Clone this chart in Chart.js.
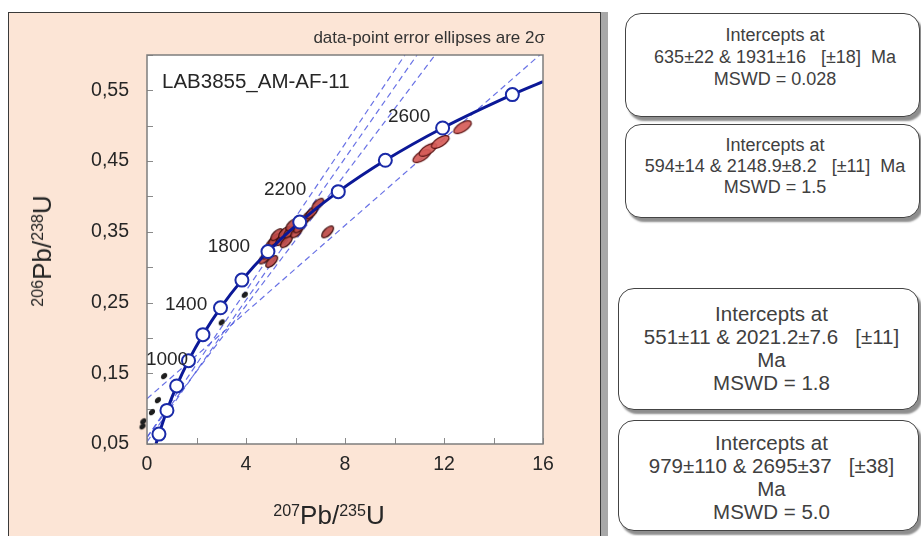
<!DOCTYPE html>
<html>
<head>
<meta charset="utf-8">
<script src="https://cdn.jsdelivr.net/npm/chart.js@4.4.1/dist/chart.umd.min.js"></script>
<style>
  body { margin: 0; width: 921px; height: 536px; overflow: hidden; position: relative; background: #fff;
         font-family: "Liberation Sans", Arial, sans-serif; }
  #panel { position: absolute; left: 8px; top: 12px; width: 591px; height: 540px; background: #fce5d6;
           border: 1px solid #3a3a3a; box-shadow: 7px 0 0 #a8a8a8; }
  #grafica { position: absolute; left: 0; top: 0; }
  .texto { position: absolute; color: #262626; white-space: nowrap; }
  .titulo { font-size: 26px; line-height: 26px; transform: translate(-50%, -50%); }
  sup { font-size: 0.62em; vertical-align: 0.5em; line-height: 0; }
  .caja { position: absolute; box-sizing: border-box; background: #fff; border: 1px solid #444;
          border-radius: 16px; box-shadow: 3px 4px 2px #8e8e8e; text-align: center; color: #404040;
          white-space: pre; }
</style>
</head>
<body>
<div id="panel"></div>
<canvas id="grafica" width="610" height="536"></canvas>

<div class="texto" style="right:376px; top:28px; font-size:17px; line-height:20px; color:#333;">data-point error ellipses are 2σ</div>
<div class="texto titulo" style="left:329px; top:515px;"><sup>207</sup>Pb/<sup>235</sup>U</div>
<div class="texto titulo" style="left:42px; top:251px; transform: translate(-50%, -50%) rotate(-90deg);"><sup>206</sup>Pb/<sup>238</sup>U</div>

<div class="caja" style="left:625px; top:13px; width:295px; height:104px; font-size:18px; line-height:22px; padding:10px 0 0 5px;">Intercepts at
635±22 &amp; 1931±16   [±18]  Ma
MSWD = 0.028</div>
<div class="caja" style="left:625px; top:124px; width:295px; height:94px; font-size:18px; line-height:21px; padding:10px 0 0 5px;">Intercepts at
594±14 &amp; 2148.9±8.2   [±11]  Ma
MSWD = 1.5</div>
<div class="caja" style="left:618px; top:288px; width:301px; height:122px; font-size:20.5px; line-height:23px; padding:13px 0 0 6px;">Intercepts at
551±11 &amp; 2021.2±7.6   [±11]
Ma
MSWD = 1.8</div>
<div class="caja" style="left:618px; top:420px; width:301px; height:111px; font-size:20.5px; line-height:23px; padding:10px 0 0 6px;">Intercepts at
979±110 &amp; 2695±37   [±38]
Ma
MSWD = 5.0</div>

<script>
// Curva concordia (207Pb/235U, 206Pb/238U)
const concordiaX = [0.363, 0.483, 0.806, 1.199, 1.677, 2.260, 2.970, 3.835, 4.887, 6.170, 7.729, 9.630, 11.944, 14.762, 16.0];
const concordiaY = [0.050, 0.064, 0.0975, 0.1321, 0.1678, 0.2046, 0.2426, 0.2817, 0.3221, 0.3638, 0.4068, 0.4511, 0.4968, 0.5440, 0.5624];

// Marcas de edad cada 200 Ma (400 - 2800)
const edadesX = [0.483, 0.806, 1.199, 1.677, 2.260, 2.970, 3.835, 4.887, 6.170, 7.729, 9.630, 11.944, 14.762];
const edadesY = [0.064, 0.0975, 0.1321, 0.1678, 0.2046, 0.2426, 0.2817, 0.3221, 0.3638, 0.4068, 0.4511, 0.4968, 0.5440];

// Etiquetas de edad
const etiquetasTexto = ["1000", "1400", "1800", "2200", "2600"];
const etiquetasX = [0.81, 1.58, 3.31, 5.58, 10.59];
const etiquetasY = [0.169, 0.247, 0.329, 0.409, 0.513];

// Elipses de error (grupo central)
const elipsesX = [4.76, 4.88, 5.04, 5.04, 5.16, 5.24, 5.44, 5.56, 5.63, 5.77, 5.85, 6.05, 6.17, 6.30, 6.50, 6.65, 6.90, 7.30];
const elipsesY = [0.313, 0.320, 0.308, 0.334, 0.339, 0.346, 0.339, 0.349, 0.336, 0.350, 0.360, 0.350, 0.357, 0.364, 0.372, 0.377, 0.389, 0.350];

// Elipses grandes cerca de 2600 Ma
const grandesX = [11.10, 11.35, 11.85, 12.75];
const grandesY = [0.457, 0.466, 0.477, 0.498];

// Puntos pequeños (negros)
const puntosX = [3.95, 3.02, 0.69, 0.44, 0.20, -0.15, -0.18];
const puntosY = [0.261, 0.222, 0.146, 0.112, 0.095, 0.082, 0.075];

// Rectas de discordia (extremos)
const discordiaX1 = [0, 0, 0, 0];
const discordiaY1 = [0.059, 0.060, 0.053, 0.114];
const discordiaX2 = [10.42, 11.64, 10.91, 16];
const discordiaY2 = [0.60, 0.60, 0.60, 0.604];

Chart.defaults.font.family = '"Liberation Sans", Arial, sans-serif';
Chart.defaults.color = "#262626";

function toPoints(xs, ys) {
  return xs.map((x, i) => ({ x: x, y: ys[i] }));
}

function crearElipse(rx, ry, angulo, relleno, borde) {
  const lado = Math.ceil(Math.max(rx, ry) * 2 + 4);
  const c = document.createElement("canvas");
  c.width = lado;
  c.height = lado;
  const g = c.getContext("2d");
  g.translate(lado / 2, lado / 2);
  g.rotate((angulo * Math.PI) / 180);
  g.beginPath();
  g.ellipse(0, 0, rx, ry, 0, 0, Math.PI * 2);
  g.fillStyle = relleno;
  g.fill();
  g.lineWidth = 1.2;
  g.strokeStyle = borde;
  g.stroke();
  return c;
}

const elipseChica = crearElipse(7.5, 3.6, -45, "rgba(190,74,70,0.92)", "#3c0e0e");
const elipseGrande = crearElipse(10, 4.3, -32, "rgba(214,92,88,0.92)", "#5a1414");
const punto = crearElipse(3, 2, -45, "#1e1e1e", "#1e1e1e");

const datasets = [];

discordiaX1.forEach((x, i) => {
  datasets.push({
    data: [{ x: x, y: discordiaY1[i] }, { x: discordiaX2[i], y: discordiaY2[i] }],
    showLine: true,
    borderColor: "rgba(78,88,225,0.85)",
    borderWidth: 1.2,
    borderDash: [6, 4],
    pointRadius: 0,
    order: 5,
  });
});

datasets.push({
  data: toPoints(puntosX, puntosY),
  pointStyle: punto,
  pointRadius: 5,
  clip: false,
  order: 4,
});

datasets.push({
  data: toPoints(elipsesX, elipsesY),
  pointStyle: elipseChica,
  pointRadius: 5,
  order: 3,
});

datasets.push({
  data: toPoints(grandesX, grandesY),
  pointStyle: elipseGrande,
  pointRadius: 5,
  order: 3,
});

datasets.push({
  data: toPoints(concordiaX, concordiaY),
  showLine: true,
  borderColor: "#0b1897",
  borderWidth: 3,
  pointRadius: 0,
  cubicInterpolationMode: "monotone",
  order: 1,
});

datasets.push({
  data: toPoints(edadesX, edadesY),
  pointRadius: 6.5,
  pointBackgroundColor: "#ffffff",
  pointBorderColor: "#1a2aa8",
  pointBorderWidth: 2,
  order: 0,
});

// Fondo blanco, marco y marcas hacia adentro
const marcoPlugin = {
  id: "marco",
  beforeDraw(chart) {
    const { ctx, chartArea: a } = chart;
    ctx.save();
    ctx.fillStyle = "#ffffff";
    ctx.fillRect(a.left, a.top, a.width, a.height);
    ctx.restore();
  },
  beforeDatasetsDraw(chart) {
    const { ctx, chartArea: a, scales } = chart;
    ctx.save();
    ctx.strokeStyle = "#8a8a8a";
    ctx.lineWidth = 1;
    ctx.beginPath();
    scales.x.ticks.forEach((t) => {
      const px = Math.round(scales.x.getPixelForValue(t.value)) + 0.5;
      ctx.moveTo(px, a.bottom);
      ctx.lineTo(px, a.bottom - 6);
    });
    scales.y.ticks.forEach((t) => {
      const py = Math.round(scales.y.getPixelForValue(t.value)) + 0.5;
      ctx.moveTo(a.left, py);
      ctx.lineTo(a.left + 6, py);
    });
    ctx.stroke();
    ctx.restore();
  },
  afterDatasetsDraw(chart) {
    const { ctx, chartArea: a, scales } = chart;
    ctx.save();
    ctx.strokeStyle = "#7d7d7d";
    ctx.lineWidth = 1.5;
    ctx.strokeRect(a.left, a.top, a.width, a.height);

    ctx.fillStyle = "#262626";
    ctx.font = '19px "Liberation Sans", Arial, sans-serif';
    ctx.textAlign = "center";
    ctx.textBaseline = "middle";
    etiquetasTexto.forEach((txt, i) => {
      ctx.fillText(txt, scales.x.getPixelForValue(etiquetasX[i]), scales.y.getPixelForValue(etiquetasY[i]));
    });

    ctx.font = '20.5px "Liberation Sans", Arial, sans-serif';
    ctx.textAlign = "left";
    ctx.fillText("LAB3855_AM-AF-11", a.left + 15, a.top + 27);
    ctx.restore();
  },
};

new Chart(document.getElementById("grafica"), {
  type: "scatter",
  data: { datasets: datasets },
  options: {
    responsive: false,
    animation: false,
    layout: { padding: { left: 0, top: 55, right: 67, bottom: 0 } },
    plugins: { legend: { display: false }, tooltip: { enabled: false } },
    scales: {
      x: {
        type: "linear",
        min: 0,
        max: 16,
        grid: { display: false, drawTicks: false },
        border: { display: false },
        ticks: {
          stepSize: 2,
          padding: 9,
          autoSkip: false,
          maxRotation: 0,
          font: { size: 19.5 },
          callback: (v) => (Math.round(v) % 4 === 0 ? String(Math.round(v)) : ""),
        },
        afterFit: (s) => {
          s.height = 92;
        },
      },
      y: {
        type: "linear",
        min: 0.05,
        max: 0.6,
        grid: { display: false, drawTicks: false },
        border: { display: false },
        ticks: {
          stepSize: 0.05,
          padding: 18,
          autoSkip: false,
          font: { size: 19.5 },
          callback: (v) => {
            const c = Math.round(v * 100);
            return c % 10 === 5 ? (c / 100).toFixed(2).replace(".", ",") : "";
          },
        },
        afterFit: (s) => {
          s.width = 147;
        },
      },
    },
  },
  plugins: [marcoPlugin],
});
</script>
</body>
</html>
